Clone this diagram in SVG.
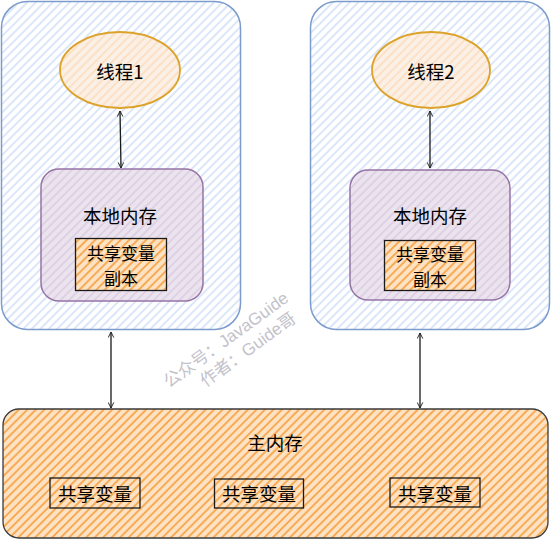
<svg xmlns="http://www.w3.org/2000/svg" width="551" height="541" viewBox="0 0 551 541">
<defs>
<pattern id="hBlue" width="6" height="6" patternUnits="userSpaceOnUse" patternTransform="rotate(-45)">
<rect width="6" height="6" fill="#ffffff"/>
<line x1="0" y1="3" x2="6" y2="3" stroke="#c4d8f5" stroke-width="1.2"/>
</pattern>
<pattern id="hPurple" width="6" height="6" patternUnits="userSpaceOnUse" patternTransform="rotate(-45)">
<rect width="6" height="6" fill="#ebe4ef"/>
<line x1="0" y1="3" x2="6" y2="3" stroke="#d5c4dc" stroke-width="1.2"/>
</pattern>
<pattern id="hOrangeLight" width="6" height="6" patternUnits="userSpaceOnUse" patternTransform="rotate(-45)">
<rect width="6" height="6" fill="#fbf0e6"/>
<line x1="0" y1="3" x2="6" y2="3" stroke="#fdd5b0" stroke-width="1.2"/>
</pattern>
<pattern id="hOrange" width="6" height="6" patternUnits="userSpaceOnUse" patternTransform="rotate(-45)">
<rect width="6" height="6" fill="#fde2c4"/>
<line x1="0" y1="3" x2="6" y2="3" stroke="#f7a54a" stroke-width="1.8"/>
</pattern>
<marker id="ah" viewBox="0 0 10 10" refX="9" refY="5" markerWidth="7" markerHeight="7" orient="auto-start-reverse" markerUnits="userSpaceOnUse">
<path d="M1,1 L9,5 L1,9" fill="none" stroke="#1a1a1a" stroke-width="1.3"/>
</marker>
</defs>
<style>
text{font-family:"Noto Sans CJK SC","Liberation Sans",sans-serif;font-size:18.5px;fill:#000;text-anchor:middle;dominant-baseline:central}
text.two{font-size:17px}
.outer{fill:url(#hBlue);stroke:#7b9ccc;stroke-width:1.5}
.local{fill:url(#hPurple);stroke:#9673a6;stroke-width:1.5}
.thread{fill:url(#hOrangeLight);stroke:#dca22a;stroke-width:1.8}
.var{fill:url(#hOrange);stroke:#1a1a1a;stroke-width:1.3}
.main{fill:url(#hOrange);stroke:#3a3a3a;stroke-width:1.3}
.conn{stroke:#1a1a1a;stroke-width:1.3;fill:none;marker-start:url(#ah);marker-end:url(#ah)}
.wm{font-size:17px;fill:#c3c2ca;font-family:"Liberation Sans","Noto Sans CJK SC",sans-serif}
</style>
<g id="outer1"><rect class="outer" x="1.5" y="1.5" width="239" height="328" rx="26"/></g>
<g id="outer2"><rect class="outer" x="310.5" y="1.5" width="239" height="328" rx="26"/></g>
<g id="thread1"><ellipse class="thread" cx="120" cy="70" rx="60" ry="38"/><text x="120" y="71">线程1</text></g>
<g id="thread2"><ellipse class="thread" cx="431" cy="70" rx="59" ry="38"/><text x="431" y="71">线程2</text></g>
<g id="local1"><rect class="local" x="41" y="169" width="162" height="132" rx="18"/><text x="120" y="215">本地内存</text>
<g id="copy1"><rect class="var" x="75.5" y="238.5" width="91" height="52"/><text class="two" x="121" y="252">共享变量</text><text class="two" x="121" y="277">副本</text></g></g>
<g id="local2"><rect class="local" x="350" y="170" width="160" height="130" rx="18"/><text x="430" y="215">本地内存</text>
<g id="copy2"><rect class="var" x="384.5" y="240.5" width="91" height="50"/><text class="two" x="430" y="253">共享变量</text><text class="two" x="430" y="278">副本</text></g></g>
<g id="mainmem"><rect class="main" x="3" y="409" width="545" height="129" rx="16"/><text x="275" y="442">主内存</text>
<g id="var1"><rect class="var" x="50" y="478" width="90" height="30"/><text x="95" y="493">共享变量</text></g>
<g id="var2"><rect class="var" x="214.5" y="479" width="89" height="29"/><text x="259" y="493">共享变量</text></g>
<g id="var3"><rect class="var" x="390" y="478" width="90" height="29"/><text x="435" y="493">共享变量</text></g></g>
<g id="connectors">
<line class="conn" x1="120" y1="111" x2="121" y2="168"/>
<line class="conn" x1="430" y1="111" x2="430" y2="168"/>
<line class="conn" x1="111" y1="332" x2="111" y2="408"/>
<line class="conn" x1="420" y1="333" x2="420" y2="408"/>
</g>
<g id="watermark" transform="translate(232,348) rotate(-36)">
<text class="wm" x="0" y="-10">公众号：JavaGuide</text>
<text class="wm" x="12" y="11">作者：Guide哥</text>
</g>
</svg>
